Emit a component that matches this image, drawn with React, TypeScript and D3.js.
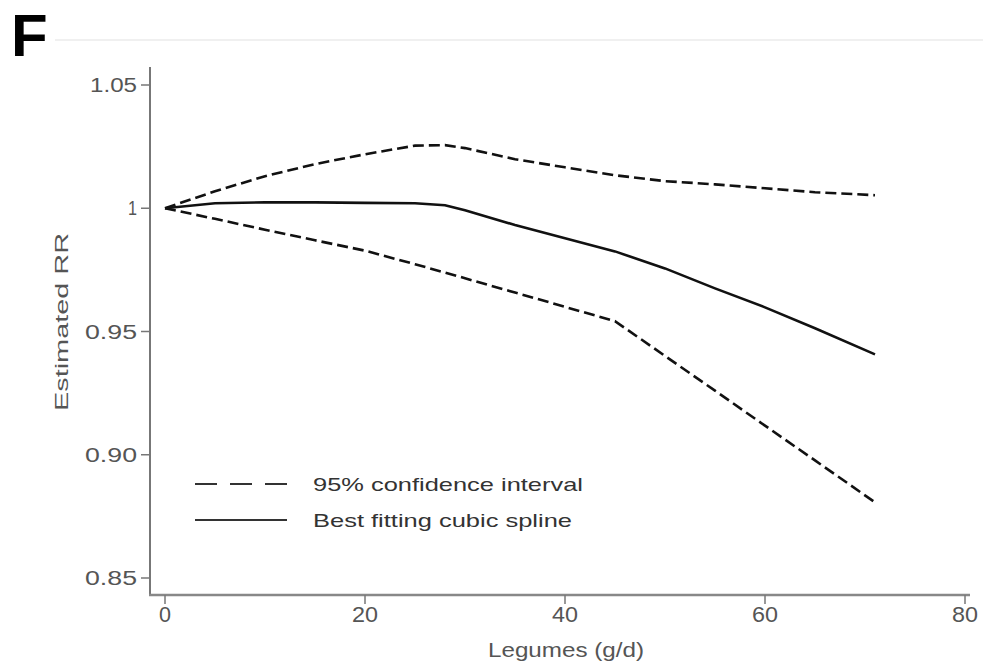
import React from "react";
import * as d3 from "d3";

const xs = [0, 5, 10, 15, 20, 25, 28, 30, 35, 40, 45, 50, 55, 60, 65, 71];
const upperCI = [1.0, 1.0069, 1.013, 1.0179, 1.0219, 1.0254, 1.0256, 1.0244, 1.0199, 1.0166, 1.0134, 1.011, 1.0097, 1.0081, 1.0065, 1.0053];
const spline = [1.0, 1.002, 1.0024, 1.0024, 1.0022, 1.002, 1.0012, 0.9992, 0.9932, 0.9878, 0.9825, 0.9756, 0.9675, 0.9598, 0.9513, 0.9407];
const lowerCI = [1.0, 0.9957, 0.9913, 0.987, 0.9828, 0.9773, 0.9739, 0.9716, 0.9658, 0.96, 0.9542, 0.9401, 0.926, 0.9118, 0.8977, 0.8807];

const xTicks = [0, 20, 40, 60, 80];
const yTicks = [0.85, 0.9, 0.95, 1, 1.05];
const yTickLabels = ["0.85", "0.90", "0.95", "1", "1.05"];
const legendLabels = ["95% confidence interval", "Best fitting cubic spline"];

export default function App() {
  const W = 983, H = 662;
  const x = d3.scaleLinear().domain([0, 80]).range([165, 965]);
  const y = d3.scaleLinear().domain([0.85, 1.05]).range([578, 85]);
  const line = (vals: number[]) =>
    d3.line<number>().x((_, i) => x(xs[i])).y((v) => y(v)).curve(d3.curveLinear)(vals) || "";
  const axisX = 150;
  const axisY = 595;
  const font = "'Liberation Sans', Arial, sans-serif";
  const yLabelLen: Record<string, number> = { "1.05": 47, "1": 9, "0.95": 52, "0.90": 52, "0.85": 52 };
  const xLabelLen = (t: number) => (t === 0 ? 12 : 26);
  return (
    <svg width={W} height={H} style={{ position: "absolute", left: 0, top: 0, background: "#fff" }} fontFamily={font}>
      <rect x={0} y={0} width={W} height={H} fill="#fff" />
      <text x={11} y={56} fontSize={60} fontWeight="bold" fill="#000">F</text>
      <line x1={55} x2={983} y1={40} y2={40} stroke="#f0f0f0" strokeWidth={2} />
      {/* axes */}
      <line x1={axisX} x2={axisX} y1={67} y2={axisY} stroke="#777" strokeWidth={2} />
      <line x1={axisX - 1} x2={970} y1={axisY} y2={axisY} stroke="#888" strokeWidth={2.5} />
      {yTicks.map((t, i) => (
        <g key={"y" + i}>
          <line x1={axisX - 9} x2={axisX} y1={y(t)} y2={y(t)} stroke="#777" strokeWidth={1.5} />
          <text x={137} y={y(t) + 7} fontSize={20} fill="#555" textAnchor="end"
            textLength={yLabelLen[yTickLabels[i]]} lengthAdjust="spacingAndGlyphs">{yTickLabels[i]}</text>
        </g>
      ))}
      {xTicks.map((t, i) => (
        <g key={"x" + i}>
          <line x1={x(t)} x2={x(t)} y1={axisY} y2={axisY + 9} stroke="#777" strokeWidth={1.5} />
          <text x={x(t)} y={622} fontSize={22} fill="#555" textAnchor="middle"
            textLength={xLabelLen(t)} lengthAdjust="spacingAndGlyphs">{t}</text>
        </g>
      ))}
      <text x={566} y={657} fontSize={21} fill="#555" textAnchor="middle" textLength={156} lengthAdjust="spacingAndGlyphs">Legumes (g/d)</text>
      <text transform={`translate(68,322) rotate(-90)`} fontSize={18} fill="#555" textAnchor="middle"
        textLength={178} lengthAdjust="spacingAndGlyphs">Estimated RR</text>
      {/* lines */}
      <path d={line(upperCI)} fill="none" stroke="#111" strokeWidth={2.6} strokeDasharray="11 5" />
      <path d={line(lowerCI)} fill="none" stroke="#111" strokeWidth={2.6} strokeDasharray="11 5" />
      <path d={line(spline)} fill="none" stroke="#111" strokeWidth={2.6} />
      {/* legend */}
      <line x1={195} x2={287} y1={484} y2={484} stroke="#333" strokeWidth={2} strokeDasharray="22 13" />
      <text x={313} y={491} fontSize={19} fill="#333" textLength={270} lengthAdjust="spacingAndGlyphs">{legendLabels[0]}</text>
      <line x1={195} x2={287} y1={520} y2={520} stroke="#333" strokeWidth={2} />
      <text x={313} y={527} fontSize={19} fill="#333" textLength={259} lengthAdjust="spacingAndGlyphs">{legendLabels[1]}</text>
    </svg>
  );
}
